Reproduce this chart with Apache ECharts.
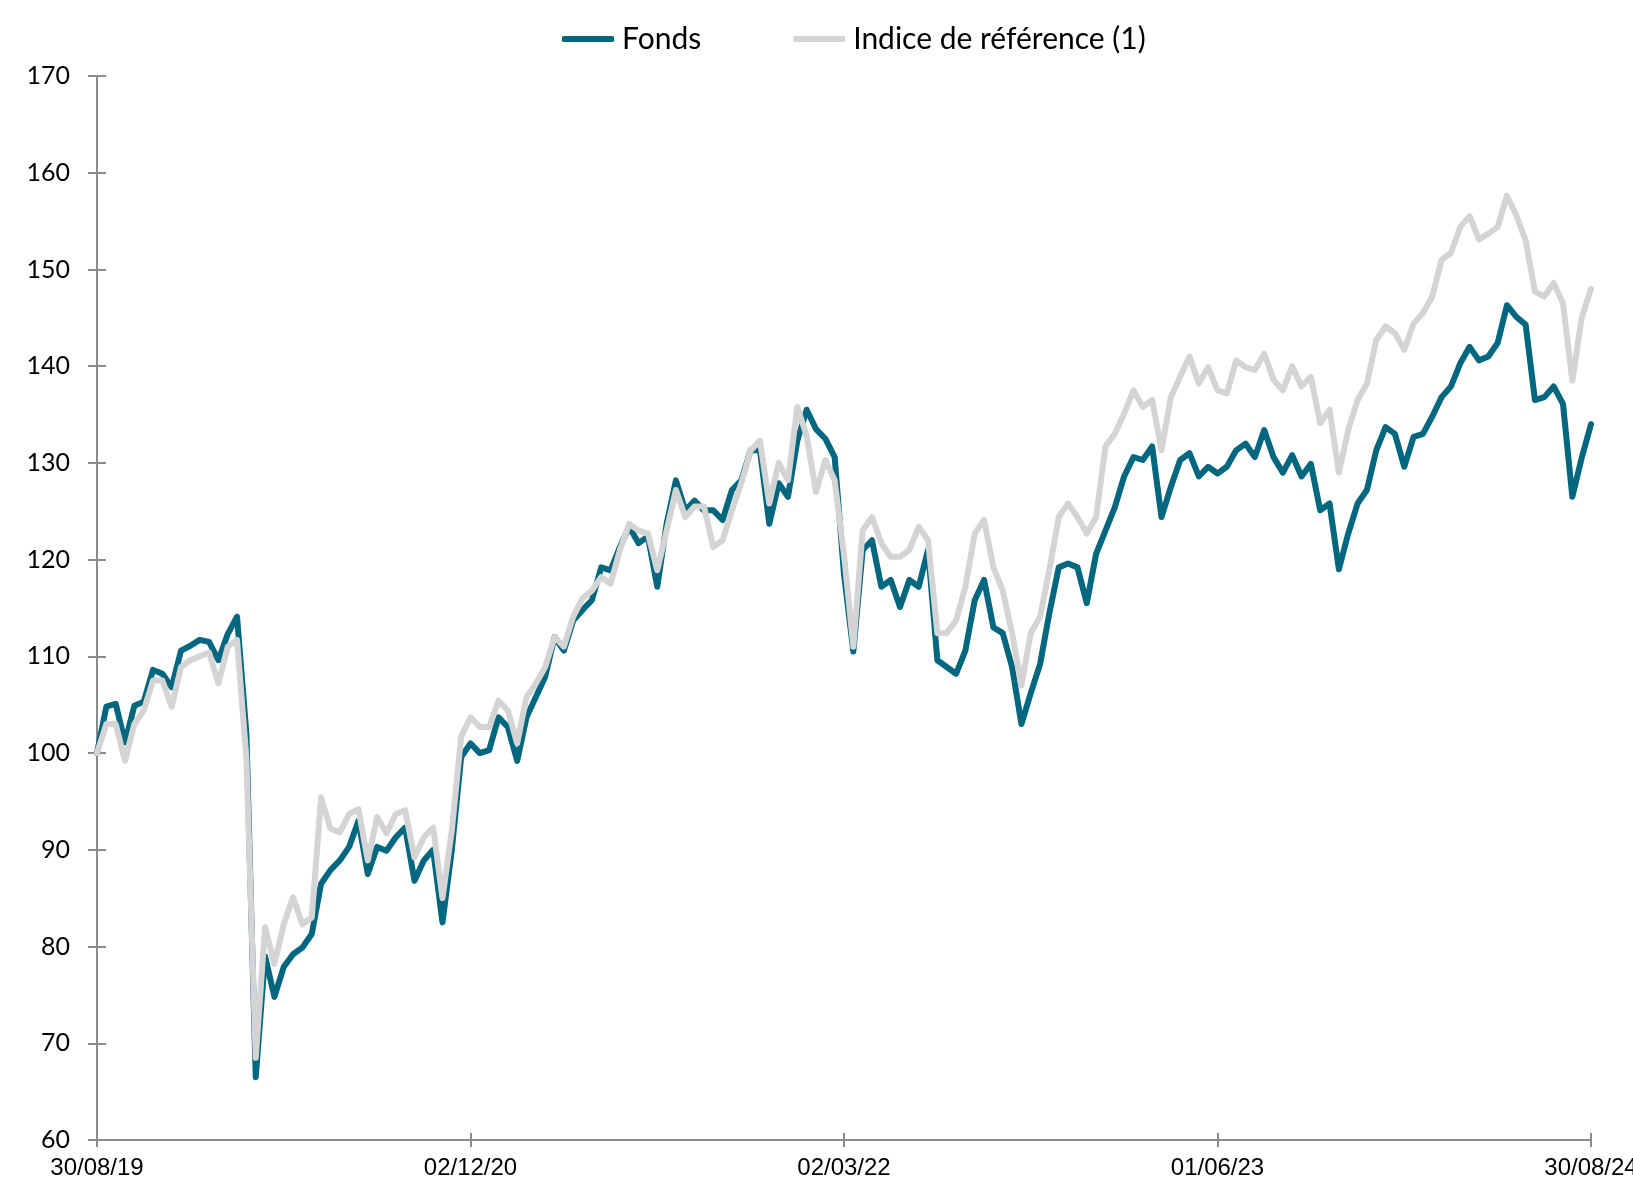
<!DOCTYPE html>
<html>
<head>
<meta charset="utf-8">
<script src="https://cdn.jsdelivr.net/npm/echarts@6/dist/echarts.min.js"></script>
<style>
html,body{margin:0;padding:0;background:#fff;}
#chart{width:1633px;height:1180px;}
</style>
</head>
<body>
<div id="chart"></div>
<script>
// Tick labels on the time axis (one every 40 sampled points)
const tickLabels = ['30/08/19', '02/12/20', '02/03/22', '01/06/23', '30/08/24'];
const tickEvery = 40;

const seriesNames = ['Fonds', 'Indice de référence (1)'];

// Fonds (sampled ~every 11 days)
const fonds = [
 100, 104.8, 105.1, 101.1, 104.9, 105.3, 108.6, 108.2, 106.8, 110.6,
 111.1, 111.7, 111.5, 109.6, 112.3, 114.1, 102, 66.5, 79, 74.8,
 77.9, 79.2, 79.9, 81.3, 86.5, 87.9, 88.9, 90.3, 93, 87.5,
 90.3, 89.9, 91.3, 92.3, 86.8, 88.9, 90, 82.5, 90, 99.6,
 101, 100, 100.3, 103.7, 102.7, 99.2, 103.7, 105.8, 107.9, 112,
 110.6, 113.7, 114.8, 115.8, 119.2, 118.9, 121.3, 123.4, 121.7, 122.4,
 117.2, 123.7, 128.2, 125.1, 126.1, 125.1, 125.1, 124.1, 127.2, 128.2,
 131.3, 131.3, 123.7, 127.9, 126.5, 132.3, 135.5, 133.5, 132.5, 130.6,
 118.5, 110.5, 121, 122, 117.2, 117.9, 115.1, 117.9, 117.2, 121,
 109.6, 108.9, 108.2, 110.6, 115.8, 117.9, 113, 112.4, 108.9, 103,
 106.2, 109.2, 114.5, 119.2, 119.6, 119.2, 115.5, 120.6, 123, 125.4,
 128.6, 130.6, 130.3, 131.7, 124.4, 127.5, 130.3, 131, 128.6, 129.6,
 128.9, 129.6, 131.3, 132, 130.6, 133.4, 130.6, 129, 130.8, 128.6,
 129.9, 125.1, 125.8, 119, 122.7, 125.8, 127.2, 131.3, 133.7, 133,
 129.6, 132.7, 133, 134.8, 136.8, 137.9, 140.3, 142, 140.6, 141,
 142.4, 146.3, 145.1, 144.3, 136.5, 136.8, 137.9, 136.1, 126.5, 130.5,
 134
];

// Indice de référence (1)
const indice = [
 100, 103, 103, 99.2, 103, 104.4, 107.5, 107.5, 104.8, 108.9,
 109.6, 110, 110.4, 107.2, 111, 111.7, 99.5, 68.5, 82, 78.2,
 82.3, 85.1, 82.3, 83, 95.4, 92.2, 91.8, 93.7, 94.2, 88.9,
 93.4, 91.7, 93.7, 94.1, 89.2, 91.3, 92.3, 85, 92, 101.7,
 103.7, 102.7, 102.7, 105.4, 104.4, 101, 105.8, 107.2, 108.9, 112,
 111, 114.1, 116, 116.8, 118.2, 117.5, 121, 123.7, 123, 122.7,
 118.9, 123, 127.2, 124.4, 125.5, 125.5, 121.3, 122, 125.1, 127.9,
 131.3, 132.3, 125.8, 130, 128.2, 135.8, 132.8, 127, 130.3, 128.2,
 120.5, 111, 123, 124.4, 121.7, 120.3, 120.3, 121, 123.4, 122,
 112.4, 112.4, 113.7, 117.2, 122.7, 124.1, 119.2, 116.8, 112.4, 107,
 112.4, 114.1, 119, 124.4, 125.8, 124.4, 122.7, 124.4, 131.7, 133,
 135.1, 137.5, 135.8, 136.5, 131.3, 136.8, 138.9, 141, 138.2, 139.9,
 137.5, 137.2, 140.6, 139.9, 139.6, 141.3, 138.6, 137.5, 140, 137.9,
 138.9, 134.1, 135.5, 129, 133.4, 136.5, 138.2, 142.7, 144.1, 143.4,
 141.7, 144.4, 145.5, 147.2, 151, 151.7, 154.4, 155.5, 153.1, 153.7,
 154.4, 157.6, 155.6, 153, 147.7, 147.2, 148.6, 146.5, 138.5, 145,
 148
];

const categories = fonds.map((_, i) => i % tickEvery === 0 ? tickLabels[i / tickEvery] : String(i));

const axisGray = '#8c8c8c';
const chart = echarts.init(document.getElementById('chart'), null, {renderer: 'canvas'});

const baseX = {
  type: 'category',
  data: categories,
  boundaryGap: false,
  position: 'bottom'
};
const baseY = {
  type: 'value',
  min: 60, max: 170, interval: 10,
  position: 'left',
  splitLine: {show: false}
};

chart.setOption({
  animation: false,
  backgroundColor: '#ffffff',
  grid: {left: 97, right: 42, top: 76, bottom: 40, containLabel: false, outerBoundsMode: 'none'},
  legend: {
    data: [
      {name: seriesNames[0], icon: 'roundRect'},
      {name: seriesNames[1], icon: 'roundRect'}
    ],
    left: 557, top: 19,
    itemWidth: 52, itemHeight: 6, itemGap: 92,
    textStyle: {fontFamily: 'Lato', fontSize: 30, color: '#000', padding: [0, 0, 0, 3]}
  },
  xAxis: [
    Object.assign({}, baseX, {
      axisLine: {show: true, lineStyle: {color: axisGray, width: 2}},
      axisTick: {show: true, inside: true, length: 7, interval: tickEvery - 1, lineStyle: {color: axisGray, width: 2}},
      axisLabel: {
        interval: tickEvery - 1, margin: 16,
        fontFamily: 'Liberation Sans', fontSize: 24, color: '#000',
        formatter: (v, i) => (i % tickEvery === 0 ? tickLabels[i / tickEvery] : '')
      },
      splitLine: {show: false}
    }),
    Object.assign({}, baseX, {
      axisLine: {show: false},
      axisTick: {show: true, inside: false, length: 7, interval: tickEvery - 1, lineStyle: {color: axisGray, width: 2}},
      axisLabel: {show: false},
      splitLine: {show: false}
    })
  ],
  yAxis: [
    Object.assign({}, baseY, {
      axisLine: {show: true, lineStyle: {color: axisGray, width: 2}},
      axisTick: {show: true, inside: false, length: 9, lineStyle: {color: axisGray, width: 2}},
      axisLabel: {margin: 27, fontFamily: 'Lato', fontSize: 25, color: '#000'}
    }),
    Object.assign({}, baseY, {
      axisLine: {show: false},
      axisTick: {show: true, inside: true, length: 9, lineStyle: {color: axisGray, width: 2}},
      axisLabel: {show: false}
    })
  ],
  series: [
    {
      name: seriesNames[0], type: 'line', data: fonds,
      xAxisIndex: 0, yAxisIndex: 0,
      showSymbol: false, symbol: 'none',
      lineStyle: {color: '#00677f', width: 6, join: 'round', cap: 'round'},
      itemStyle: {color: '#00677f'},
      z: 2
    },
    {
      name: seriesNames[1], type: 'line', data: indice,
      xAxisIndex: 0, yAxisIndex: 0,
      showSymbol: false, symbol: 'none',
      lineStyle: {color: '#d4d4d4', width: 6, join: 'round', cap: 'round'},
      itemStyle: {color: '#d4d4d4'},
      z: 3
    }
  ]
});
</script>
</body>
</html>
